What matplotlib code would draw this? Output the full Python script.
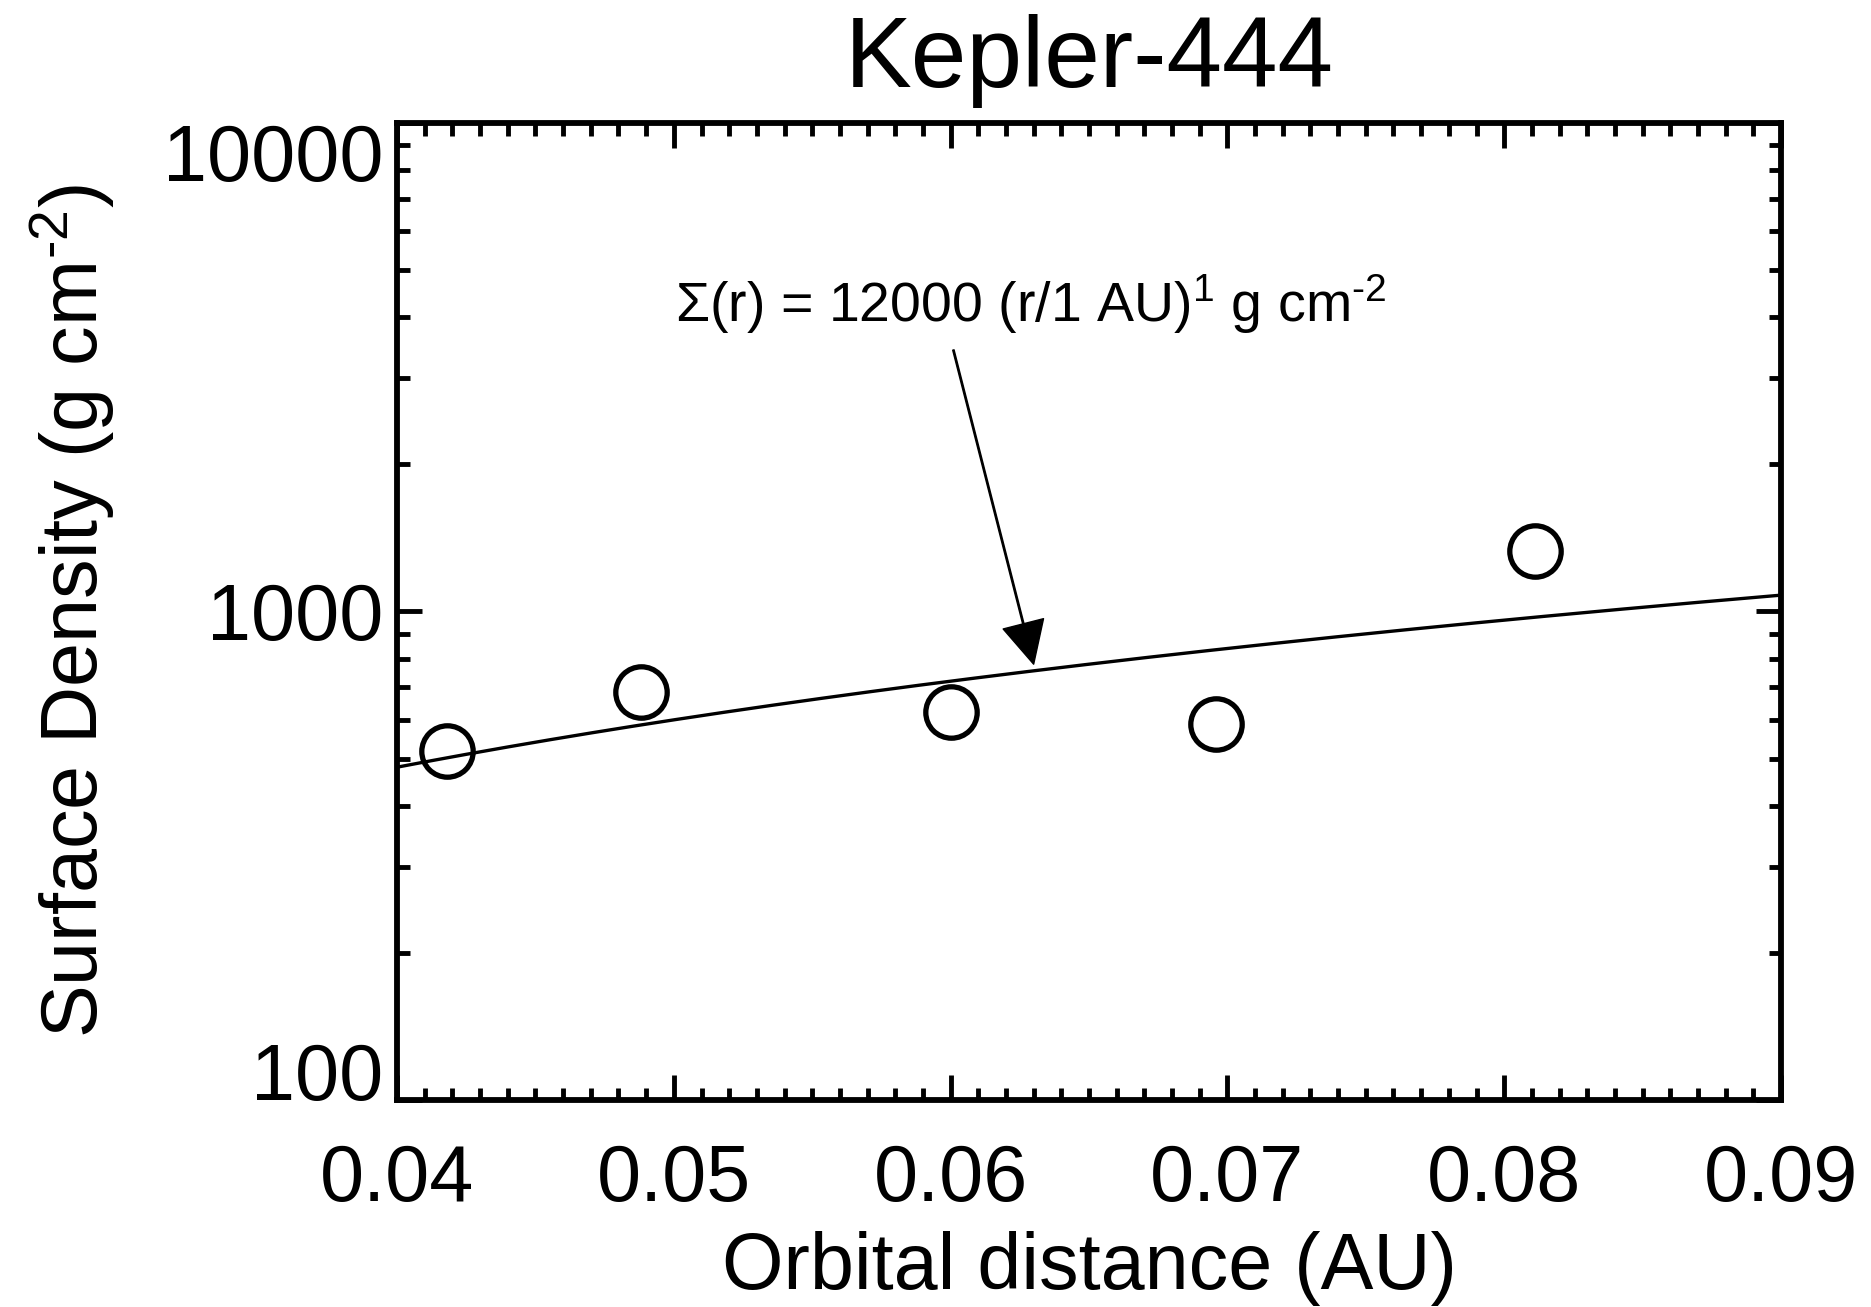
import numpy as np
import matplotlib.pyplot as plt
from matplotlib.ticker import MultipleLocator, FixedLocator, FuncFormatter

plt.rcParams['font.family'] = ['Liberation Sans', 'DejaVu Sans']
plt.rcParams['mathtext.fontset'] = 'custom'
plt.rcParams['mathtext.rm'] = 'Liberation Sans'
plt.rcParams['mathtext.default'] = 'regular'

# planets: orbital distance (AU) and surface density (g cm^-2)
dist = [0.0418, 0.0488, 0.0600, 0.0696, 0.0811]
sigma = [517, 684, 622, 588, 1328]

# power law fit  Sigma(r) = sigma0 (r/1 AU)^beta
sigma0 = 12000
beta = 1
r_fit = np.linspace(0.04, 0.09, 200)

fig = plt.figure(figsize=(18.71, 13.07), dpi=100)
ax = fig.add_axes([0.2122, 0.1584, 0.7397, 0.7475])

ax.plot(r_fit, sigma0 * r_fit**beta, color='black', lw=2.4)
ax.plot(dist, sigma, 'o', ms=37, mfc='none', mec='black', mew=3.8)

ax.set_yscale('log')
ax.set_xlim(0.04, 0.09)
ax.set_ylim(100, 10000)

ax.xaxis.set_major_locator(MultipleLocator(0.01))
ax.xaxis.set_minor_locator(MultipleLocator(0.001))
ax.xaxis.set_major_formatter(FuncFormatter(lambda v, p: f"{v:.2f}"))
ax.yaxis.set_major_locator(FixedLocator([100, 1000, 10000]))
ax.yaxis.set_major_formatter(FuncFormatter(lambda v, p: f"{int(round(v))}"))

ax.tick_params(which='both', direction='in', top=True, right=True, width=3.5)
ax.tick_params(which='major', length=18, labelsize=57)
ax.tick_params(axis='x', which='major', pad=31)
ax.tick_params(axis='y', which='major', pad=10)
ax.tick_params(which='minor', length=9)
for s in ax.spines.values():
    s.set_linewidth(4.2)

ax.set_xlabel("Orbital distance (AU)", fontsize=57, labelpad=9)
ax.set_ylabel("Surface Density (g cm$^{\u2010 2}$)", fontsize=57, labelpad=33)
ax.set_title("Kepler-444", fontsize=72, pad=26)

ax.text(0.0629, 4250, "Σ(r) = 12000 (r/1 AU)$^{1}$ g cm$^{\u20102}$",
        ha='center', va='center', fontsize=40)
ax.annotate("", xy=(0.0630, 780), xytext=(0.0601, 3430),
            arrowprops=dict(facecolor='black', edgecolor='black', width=1.0,
                            headwidth=30, headlength=30, shrink=0.0))

# end labels sit inside the axis range, like the original
yt = ax.yaxis.get_major_ticks()
yt[0].label1.set_verticalalignment('baseline')
yt[-1].label1.set_verticalalignment('top')

fig.savefig("out.png", dpi=100)
